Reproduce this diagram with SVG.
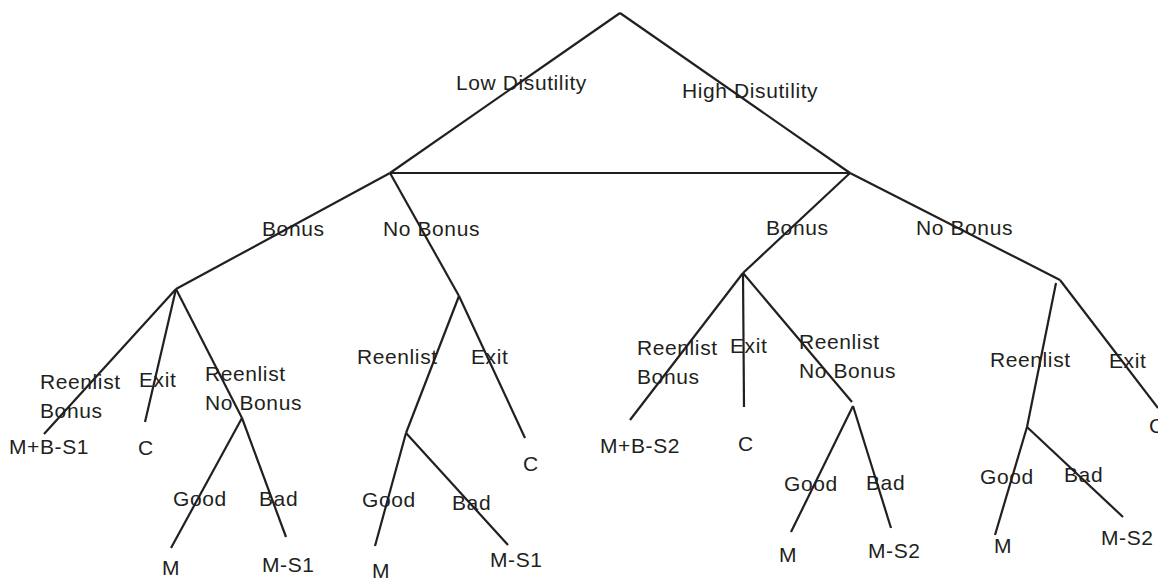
<svg xmlns="http://www.w3.org/2000/svg" width="1158" height="579" viewBox="0 0 1158 579">
<style>
.e{stroke:#231f20;stroke-width:2.2;fill:none;stroke-linecap:butt}
text{font-family:"Liberation Sans",Arial,sans-serif;font-size:21px;letter-spacing:0.6px;fill:#231f20}
</style>
<rect width="1158" height="579" fill="#ffffff"/>
<g id="connectors">
<line class="e" x1="620" y1="13" x2="390" y2="173"/>
<line class="e" x1="620" y1="13" x2="850" y2="173"/>
<line class="e" x1="390" y1="173" x2="850" y2="173"/>
<line class="e" x1="390" y1="173" x2="176" y2="289"/>
<line class="e" x1="390" y1="173" x2="459" y2="296"/>
<line class="e" x1="850" y1="173" x2="743" y2="273"/>
<line class="e" x1="850" y1="173" x2="1060" y2="280"/>
<line class="e" x1="176" y1="289" x2="44" y2="434"/>
<line class="e" x1="176" y1="289" x2="145" y2="422"/>
<line class="e" x1="176" y1="289" x2="242" y2="418"/>
<line class="e" x1="242" y1="418" x2="171" y2="548"/>
<line class="e" x1="242" y1="418" x2="286" y2="537"/>
<line class="e" x1="459" y1="296" x2="406" y2="433"/>
<line class="e" x1="459" y1="296" x2="525" y2="438"/>
<line class="e" x1="406" y1="433" x2="375" y2="546"/>
<line class="e" x1="406" y1="433" x2="508" y2="545"/>
<line class="e" x1="743" y1="273" x2="630" y2="420"/>
<line class="e" x1="743" y1="273" x2="744" y2="407"/>
<line class="e" x1="743" y1="273" x2="852" y2="402"/>
<line class="e" x1="853" y1="406" x2="791" y2="532"/>
<line class="e" x1="853" y1="406" x2="891" y2="528"/>
<line class="e" x1="1056" y1="283" x2="1027" y2="427"/>
<line class="e" x1="1060" y1="280" x2="1158" y2="408"/>
<line class="e" x1="1027" y1="427" x2="995" y2="535"/>
<line class="e" x1="1027" y1="427" x2="1123" y2="517"/>
</g>
<g id="labels-top">
<text x="456" y="90">Low Disutility</text>
<text x="682" y="98">High Disutility</text>
</g>
<g id="labels-bonus">
<text x="262" y="236">Bonus</text>
<text x="383" y="236">No Bonus</text>
<text x="766" y="235">Bonus</text>
<text x="916" y="235">No Bonus</text>
</g>
<g id="branch-LB">
<text x="40" y="389">Reenlist</text>
<text x="40" y="418">Bonus</text>
<text x="9" y="454">M+B-S1</text>
<text x="139" y="387">Exit</text>
<text x="138" y="455">C</text>
<text x="205" y="381">Reenlist</text>
<text x="205" y="410">No Bonus</text>
<text x="173" y="506">Good</text>
<text x="259" y="506">Bad</text>
<text x="162" y="575">M</text>
<text x="262" y="572">M-S1</text>
</g>
<g id="branch-LNB">
<text x="357" y="364">Reenlist</text>
<text x="471" y="364">Exit</text>
<text x="523" y="471">C</text>
<text x="362" y="507">Good</text>
<text x="452" y="510">Bad</text>
<text x="372" y="578">M</text>
<text x="490" y="567">M-S1</text>
</g>
<g id="branch-RB">
<text x="637" y="355">Reenlist</text>
<text x="637" y="384">Bonus</text>
<text x="600" y="453">M+B-S2</text>
<text x="730" y="353">Exit</text>
<text x="738" y="451">C</text>
<text x="799" y="349">Reenlist</text>
<text x="799" y="378">No Bonus</text>
<text x="784" y="491">Good</text>
<text x="866" y="490">Bad</text>
<text x="779" y="562">M</text>
<text x="868" y="558">M-S2</text>
</g>
<g id="branch-RNB">
<text x="990" y="367">Reenlist</text>
<text x="1109" y="368">Exit</text>
<text x="1149" y="433">C</text>
<text x="980" y="484">Good</text>
<text x="1064" y="482">Bad</text>
<text x="994" y="553">M</text>
<text x="1101" y="545">M-S2</text>
</g>
</svg>
